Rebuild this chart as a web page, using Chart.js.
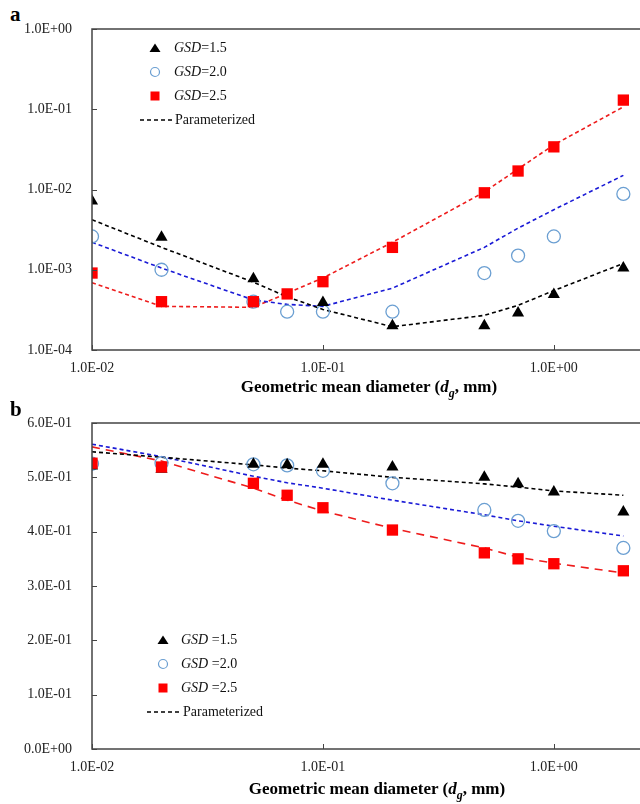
<!DOCTYPE html>
<html>
<head>
<meta charset="utf-8">
<script src="https://cdn.jsdelivr.net/npm/chart.js@4/dist/chart.umd.min.js"></script>
<style>
  body { margin: 0; background: #fff; }
  #wrap { position: relative; width: 640px; height: 804px; overflow: hidden; font-family: "Liberation Serif", "Times New Roman", serif; }
  canvas { position: absolute; left: 0; }
  .panel { position: absolute; left: 10px; font-weight: bold; font-size: 21px; }
  .xt { position: absolute; font-weight: bold; font-size: 17px; white-space: nowrap; transform: translate(-50%, -50%); }
  .xt sub { font-size: 12px; }
  .leg { position: absolute; font-size: 14px; color: #111; }
  .row { position: absolute; left: 0; white-space: nowrap; height: 18px; line-height: 18px; transform: translateY(-50%); }
  .row svg { position: absolute; top: 0; }
  .row span { position: absolute; top: 0; }
</style>
</head>
<body>
<div id="wrap">
  <div class="panel" style="top:2px">a</div>
  <canvas id="chartA" width="640" height="400" style="top:0"></canvas>
  <div class="xt" style="left:369px; top:389px">Geometric mean diameter (<i>d<sub>g</sub></i>, mm)</div>

  <div class="panel" style="top:397px">b</div>
  <canvas id="chartB" width="640" height="404" style="top:400px"></canvas>
  <div class="xt" style="left:377px; top:791px">Geometric mean diameter (<i>d<sub>g</sub></i>, mm)</div>

  <div class="leg" style="left:0; top:0">
    <div class="row" style="top:48px"><svg width="12" height="18" style="left:149px"><polygon points="6,4.5 11.5,13 0.5,13" fill="#000"/></svg><span style="left:174px"><i>GSD</i>=1.5</span></div>
    <div class="row" style="top:72px"><svg width="12" height="18" style="left:149px"><circle cx="6" cy="9" r="4.5" fill="none" stroke="#6b9fd2" stroke-width="1.2"/></svg><span style="left:174px"><i>GSD</i>=2.0</span></div>
    <div class="row" style="top:96px"><svg width="12" height="18" style="left:149px"><rect x="1.5" y="4.5" width="9" height="9" fill="#ff0000"/></svg><span style="left:174px"><i>GSD</i>=2.5</span></div>
    <div class="row" style="top:120px"><svg width="34" height="18" style="left:140px"><line x1="0" y1="9" x2="33" y2="9" stroke="#000" stroke-width="1.5" stroke-dasharray="4,3"/></svg><span style="left:175px">Parameterized</span></div>
  </div>

  <div class="leg" style="left:0; top:0">
    <div class="row" style="top:640px"><svg width="12" height="18" style="left:157px"><polygon points="6,4.5 11.5,13 0.5,13" fill="#000"/></svg><span style="left:181px"><i>GSD</i> =1.5</span></div>
    <div class="row" style="top:664px"><svg width="12" height="18" style="left:157px"><circle cx="6" cy="9" r="4.5" fill="none" stroke="#6b9fd2" stroke-width="1.2"/></svg><span style="left:181px"><i>GSD</i> =2.0</span></div>
    <div class="row" style="top:688px"><svg width="12" height="18" style="left:157px"><rect x="1.5" y="4.5" width="9" height="9" fill="#ff0000"/></svg><span style="left:181px"><i>GSD</i> =2.5</span></div>
    <div class="row" style="top:712px"><svg width="34" height="18" style="left:147px"><line x1="0" y1="9" x2="33" y2="9" stroke="#000" stroke-width="1.5" stroke-dasharray="4,3"/></svg><span style="left:183px">Parameterized</span></div>
  </div>
</div>

<script>
// geometric mean diameters (mm)
const diameters = [0.01, 0.02, 0.05, 0.07, 0.1, 0.2, 0.5, 0.7, 1, 2];

// panel a (log scale)
const gsd15A = [7.2e-3, 2.55e-3, 7.7e-4, 3.9e-4, 2.0e-4, 2.0e-4, 2.9e-4, 4.9e-4, 1.05e-3];
const gsd15AX = [0.01, 0.02, 0.05, 0.1, 0.2, 0.5, 0.7, 1, 2];
const gsd20A = [2.6e-3, 1.0e-3, 4.0e-4, 3.0e-4, 3.0e-4, 3.0e-4, 9.1e-4, 1.5e-3, 2.6e-3, 8.8e-3];
const gsd25A = [9.1e-4, 4.0e-4, 4.0e-4, 5.0e-4, 7.1e-4, 1.9e-3, 9.1e-3, 1.7e-2, 3.4e-2, 0.13];
const param15A = [4.2e-3, 1.9e-3, 7.0e-4, 4.6e-4, 3.2e-4, 1.95e-4, 2.7e-4, 3.6e-4, 5.5e-4, 1.2e-3];
const param20A = [2.2e-3, 1.05e-3, 4.2e-4, 3.7e-4, 3.5e-4, 5.9e-4, 1.9e-3, 3.3e-3, 5.6e-3, 1.5e-2];
const param25A = [6.9e-4, 3.5e-4, 3.4e-4, 5.1e-4, 7.9e-4, 2.2e-3, 9.3e-3, 1.8e-2, 3.6e-2, 0.107];

// panel b (linear scale)
const gsd15B = [0.521, 0.515, 0.524, 0.523, 0.524, 0.519, 0.500, 0.488, 0.473, 0.436];
const gsd20B = [0.525, 0.526, 0.524, 0.522, 0.512, 0.489, 0.440, 0.420, 0.401, 0.370];
const gsd25B = [0.526, 0.519, 0.489, 0.467, 0.444, 0.403, 0.361, 0.350, 0.341, 0.328];
const param15B = [0.547, 0.537, 0.523, 0.517, 0.512, 0.500, 0.488, 0.482, 0.475, 0.467];
const param20B = [0.561, 0.538, 0.502, 0.490, 0.480, 0.458, 0.431, 0.420, 0.410, 0.392];
const param25B = [0.556, 0.530, 0.480, 0.458, 0.438, 0.406, 0.370, 0.353, 0.342, 0.324];

const xDecades = [0.01, 0.1, 1];
const yDecadesA = [1e-4, 1e-3, 1e-2, 1e-1, 1];
const yTicksB = [0, 0.1, 0.2, 0.3, 0.4, 0.5, 0.6];

function sci(v) {
  if (v === 0) return '0.0E+00';
  const e = Math.floor(Math.log10(v) + 1e-9);
  const m = v / Math.pow(10, e);
  const ae = Math.abs(e);
  return m.toFixed(1) + 'E' + (e < 0 ? '-' : '+') + (ae < 10 ? '0' : '') + ae;
}
function isDecade(v) {
  const l = Math.log10(v);
  return Math.abs(l - Math.round(l)) < 1e-6;
}
function pts(xs, ys) { return ys.map((y, i) => ({ x: xs[i], y })); }

const serif = '"Liberation Serif", "Times New Roman", serif';
const BLUE_CIRCLE = '#6b9fd2';

function frame(yTicks) {
  return {
    id: 'frame',
    afterDraw(chart) {
      const { ctx, chartArea: a, scales } = chart;
      ctx.save();
      ctx.strokeStyle = '#444';
      ctx.lineWidth = 1.5;
      ctx.strokeRect(a.left, a.top, 640 - a.left + 10, a.bottom - a.top);
      ctx.lineWidth = 1;
      ctx.beginPath();
      xDecades.forEach(v => {
        const x = Math.round(scales.x.getPixelForValue(v)) + 0.5;
        ctx.moveTo(x, a.bottom); ctx.lineTo(x, a.bottom - 5);
      });
      yTicks.forEach(v => {
        const y = Math.round(scales.y.getPixelForValue(v)) + 0.5;
        ctx.moveTo(a.left, y); ctx.lineTo(a.left + 5, y);
      });
      ctx.stroke();
      ctx.restore();
    }
  };
}

// lower order is drawn on top: squares > triangles > circles > lines
function makeDatasets(p15, p20, p25, g15, g20, g25, g15x, redDash) {
  const line = (data, color, dash) => ({
    type: 'line', data: pts(diameters, data), borderColor: color, borderWidth: 1.6,
    borderDash: dash, pointRadius: 0, fill: false, tension: 0, order: 4
  });
  return [
    line(p15, '#000000', [4, 3]),
    line(p20, '#1a1ad6', [4, 3]),
    line(p25, '#ee1c1c', redDash),
    { type: 'scatter', data: pts(g15x, g15), pointStyle: 'triangle', pointRadius: 7,
      backgroundColor: '#000', borderColor: '#000', borderWidth: 0, order: 2 },
    { type: 'scatter', data: pts(diameters, g20), pointStyle: 'circle', pointRadius: 6.5,
      backgroundColor: 'rgba(0,0,0,0)', borderColor: BLUE_CIRCLE, borderWidth: 1.3, order: 3 },
    { type: 'scatter', data: pts(diameters, g25), pointStyle: 'rect', pointRadius: 8,
      backgroundColor: '#ff0000', borderColor: '#ff0000', borderWidth: 0, order: 1 }
  ];
}

function xScale(height) {
  return {
    type: 'logarithmic', min: 0.01, max: 2.18,
    grid: { display: false }, border: { display: false },
    ticks: {
      autoSkip: false, maxRotation: 0, padding: 2, color: '#222',
      font: { family: serif, size: 14 },
      callback: v => isDecade(v) ? sci(v) : ''
    },
    afterFit(s) { s.height = height; }
  };
}

const common = {
  responsive: false, devicePixelRatio: 1, animation: false,
  plugins: { legend: { display: false }, tooltip: { enabled: false } },
  elements: { point: { hoverRadius: 0 } }
};

new Chart(document.getElementById('chartA'), {
  type: 'scatter',
  data: { datasets: makeDatasets(param15A, param20A, param25A, gsd15A, gsd20A, gsd25A, gsd15AX, [4, 3]) },
  options: Object.assign({}, common, {
    layout: { padding: { top: 29, right: 0, left: 0, bottom: 0 } },
    scales: {
      x: xScale(50),
      y: {
        type: 'logarithmic', min: 1e-4, max: 1,
        grid: { display: false }, border: { display: false },
        ticks: {
          autoSkip: false, padding: 12, color: '#222',
          font: { family: serif, size: 14 },
          callback: v => isDecade(v) ? sci(v) : ''
        },
        afterFit(s) { s.width = 92; }
      }
    }
  }),
  plugins: [frame(yDecadesA)]
});

new Chart(document.getElementById('chartB'), {
  type: 'scatter',
  data: { datasets: makeDatasets(param15B, param20B, param25B, gsd15B, gsd20B, gsd25B, diameters, [8, 6]) },
  options: Object.assign({}, common, {
    layout: { padding: { top: 23, right: 0, left: 0, bottom: 0 } },
    scales: {
      x: xScale(55),
      y: {
        type: 'linear', min: 0, max: 0.6,
        grid: { display: false }, border: { display: false },
        ticks: {
          stepSize: 0.1, padding: 12, color: '#222',
          font: { family: serif, size: 14 },
          callback: v => sci(Math.round(v * 10) / 10)
        },
        afterFit(s) { s.width = 92; }
      }
    }
  }),
  plugins: [frame(yTicksB)]
});
</script>
</body>
</html>
